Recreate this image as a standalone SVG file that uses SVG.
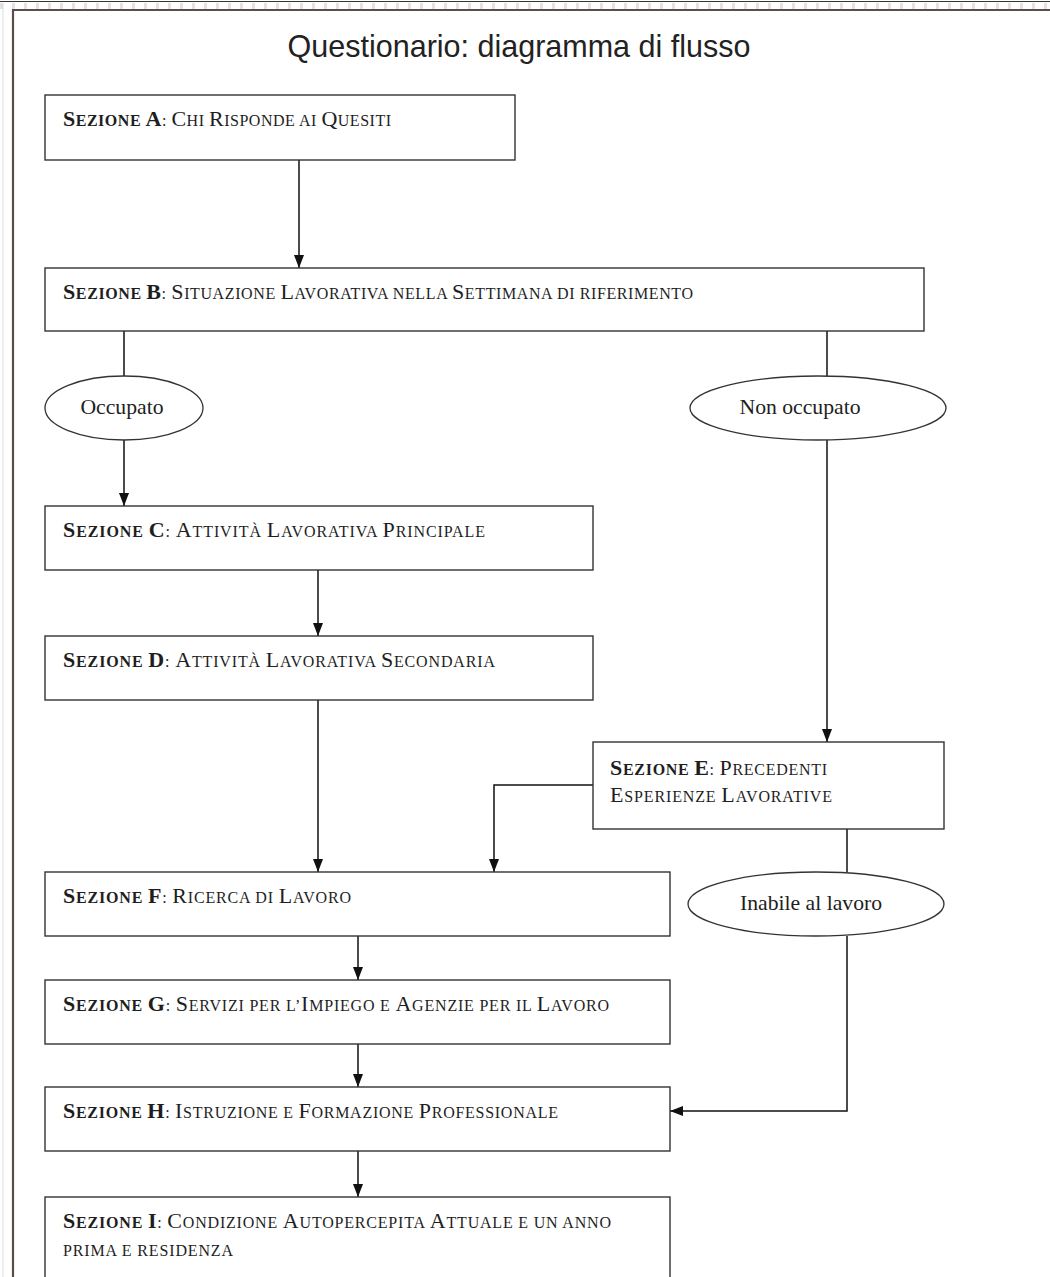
<svg xmlns="http://www.w3.org/2000/svg" width="1050" height="1277" viewBox="0 0 1050 1277">
<defs>
<style>
.bg{fill:#ffffff}
.box{fill:#ffffff;stroke:#333;stroke-width:1.4}
.ell{fill:#ffffff;stroke:#333;stroke-width:1.3}
.t{font-family:"Liberation Serif",serif;font-size:16px;fill:#1e1e1e}
.b{font-size:22px}
.k{font-weight:bold}
.el{font-family:"Liberation Serif",serif;font-size:21.7px;fill:#1e1e1e;text-anchor:middle}
.title{font-family:"Liberation Sans",Arial,sans-serif;font-size:30.5px;fill:#222;text-anchor:middle}
.c{fill:none;stroke:#111;stroke-width:1.5}
</style>
<marker id="ah" viewBox="0 0 13 10" refX="13" refY="5" markerWidth="13" markerHeight="10" markerUnits="userSpaceOnUse" orient="auto">
<path d="M0,0 L13,5 L0,10 z" fill="#111"/>
</marker>
</defs>
<rect class="bg" x="0" y="0" width="1050" height="1277"/>
<g id="frame">
<line x1="0" y1="1.5" x2="1050" y2="1.5" stroke="#333" stroke-width="1.2"/>
<line x1="0" y1="6" x2="1050" y2="6" stroke="#e2e2e2" stroke-width="6" stroke-dasharray="3 9"/>
<line x1="3" y1="3" x2="3" y2="1277" stroke="#dcdcdc" stroke-width="1"/>
<line x1="12" y1="10" x2="1050" y2="10" stroke="#5a4e48" stroke-width="2.2"/>
<line x1="13" y1="9" x2="13" y2="1277" stroke="#5a4e48" stroke-width="2.2"/>
</g>
<text class="title" x="519" y="57">Questionario: diagramma di flusso</text>
<g id="connectors">
<line class="c" x1="299" y1="160" x2="299" y2="268" marker-end="url(#ah)"/>
<line class="c" x1="124" y1="331" x2="124" y2="376"/>
<line class="c" x1="124" y1="440" x2="124" y2="506" marker-end="url(#ah)"/>
<line class="c" x1="827" y1="331" x2="827" y2="376"/>
<line class="c" x1="827" y1="440" x2="827" y2="742" marker-end="url(#ah)"/>
<line class="c" x1="318" y1="570" x2="318" y2="636" marker-end="url(#ah)"/>
<line class="c" x1="318" y1="700" x2="318" y2="872" marker-end="url(#ah)"/>
<polyline class="c" points="593,785 494,785 494,872" marker-end="url(#ah)"/>
<line class="c" x1="847" y1="829" x2="847" y2="872"/>
<polyline class="c" points="847,936 847,1111 670,1111" marker-end="url(#ah)"/>
<line class="c" x1="358" y1="936" x2="358" y2="980" marker-end="url(#ah)"/>
<line class="c" x1="358" y1="1044" x2="358" y2="1087" marker-end="url(#ah)"/>
<line class="c" x1="358" y1="1151" x2="358" y2="1197" marker-end="url(#ah)"/>
</g>
<g id="nodeA">
<rect class="box" x="45" y="95" width="470" height="65"/>
<text class="t" x="63" y="126" textLength="328" lengthAdjust="spacing"><tspan class="k"><tspan class="b">S</tspan>EZIONE <tspan class="b">A</tspan></tspan>: <tspan class="b">C</tspan>HI <tspan class="b">R</tspan>ISPONDE AI <tspan class="b">Q</tspan>UESITI</text>
</g>
<g id="nodeB">
<rect class="box" x="45" y="268" width="879" height="63"/>
<text class="t" x="63" y="299" textLength="630" lengthAdjust="spacing"><tspan class="k"><tspan class="b">S</tspan>EZIONE <tspan class="b">B</tspan></tspan>: <tspan class="b">S</tspan>ITUAZIONE <tspan class="b">L</tspan>AVORATIVA NELLA <tspan class="b">S</tspan>ETTIMANA DI RIFERIMENTO</text>
</g>
<g id="occupato">
<ellipse class="ell" cx="124" cy="408" rx="79" ry="32"/>
<text class="el" x="122" y="414">Occupato</text>
</g>
<g id="nonOccupato">
<ellipse class="ell" cx="818" cy="408" rx="128" ry="32"/>
<text class="el" x="800" y="414">Non occupato</text>
</g>
<g id="nodeC">
<rect class="box" x="45" y="506" width="548" height="64"/>
<text class="t" x="63" y="537" textLength="422" lengthAdjust="spacing"><tspan class="k"><tspan class="b">S</tspan>EZIONE <tspan class="b">C</tspan></tspan>: <tspan class="b">A</tspan>TTIVITÀ <tspan class="b">L</tspan>AVORATIVA <tspan class="b">P</tspan>RINCIPALE</text>
</g>
<g id="nodeD">
<rect class="box" x="45" y="636" width="548" height="64"/>
<text class="t" x="63" y="667" textLength="432" lengthAdjust="spacing"><tspan class="k"><tspan class="b">S</tspan>EZIONE <tspan class="b">D</tspan></tspan>: <tspan class="b">A</tspan>TTIVITÀ <tspan class="b">L</tspan>AVORATIVA <tspan class="b">S</tspan>ECONDARIA</text>
</g>
<g id="nodeE">
<rect class="box" x="593" y="742" width="351" height="87"/>
<text class="t" x="610" y="775" textLength="217" lengthAdjust="spacing"><tspan class="k"><tspan class="b">S</tspan>EZIONE <tspan class="b">E</tspan></tspan>: <tspan class="b">P</tspan>RECEDENTI</text>
<text class="t" x="610" y="802" textLength="222" lengthAdjust="spacing"><tspan class="b">E</tspan>SPERIENZE <tspan class="b">L</tspan>AVORATIVE</text>
</g>
<g id="inabile">
<ellipse class="ell" cx="816" cy="904" rx="128" ry="32"/>
<text class="el" x="811" y="910">Inabile al lavoro</text>
</g>
<g id="nodeF">
<rect class="box" x="45" y="872" width="625" height="64"/>
<text class="t" x="63" y="903" textLength="288" lengthAdjust="spacing"><tspan class="k"><tspan class="b">S</tspan>EZIONE <tspan class="b">F</tspan></tspan>: <tspan class="b">R</tspan>ICERCA DI <tspan class="b">L</tspan>AVORO</text>
</g>
<g id="nodeG">
<rect class="box" x="45" y="980" width="625" height="64"/>
<text class="t" x="63" y="1011" textLength="546" lengthAdjust="spacing"><tspan class="k"><tspan class="b">S</tspan>EZIONE <tspan class="b">G</tspan></tspan>: <tspan class="b">S</tspan>ERVIZI PER L’<tspan class="b">I</tspan>MPIEGO E <tspan class="b">A</tspan>GENZIE PER IL <tspan class="b">L</tspan>AVORO</text>
</g>
<g id="nodeH">
<rect class="box" x="45" y="1087" width="625" height="64"/>
<text class="t" x="63" y="1118" textLength="495" lengthAdjust="spacing"><tspan class="k"><tspan class="b">S</tspan>EZIONE <tspan class="b">H</tspan></tspan>: <tspan class="b">I</tspan>STRUZIONE E <tspan class="b">F</tspan>ORMAZIONE <tspan class="b">P</tspan>ROFESSIONALE</text>
</g>
<g id="nodeI">
<rect class="box" x="45" y="1197" width="625" height="100"/>
<text class="t" x="63" y="1228" textLength="548" lengthAdjust="spacing"><tspan class="k"><tspan class="b">S</tspan>EZIONE <tspan class="b">I</tspan></tspan>: <tspan class="b">C</tspan>ONDIZIONE <tspan class="b">A</tspan>UTOPERCEPITA <tspan class="b">A</tspan>TTUALE E UN ANNO</text>
<text class="t" x="63" y="1256" textLength="170" lengthAdjust="spacing">PRIMA E RESIDENZA</text>
</g>
</svg>
